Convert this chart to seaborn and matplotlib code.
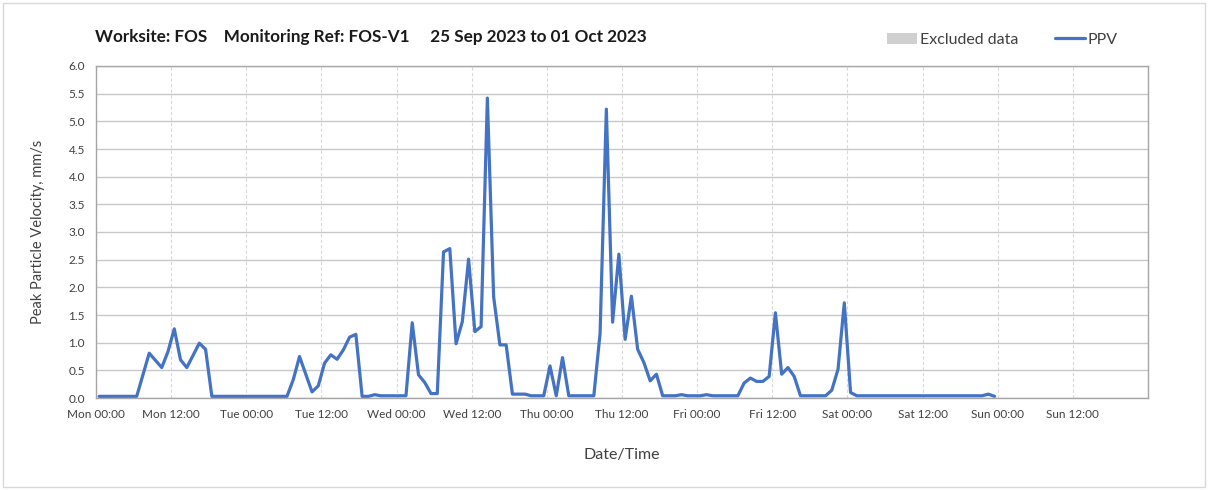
import matplotlib
matplotlib.use("Agg")
import matplotlib.pyplot as plt
import matplotlib.dates as mdates
import numpy as np
import pandas as pd
import seaborn as sns
from matplotlib.patches import Patch, Rectangle
from matplotlib.lines import Line2D

# ---- data (hourly PPV readings, mm/s) ----
start_time = "2023-09-25 00:30"
ppv = [
    0.03, 0.03, 0.03, 0.03, 0.03, 0.03, 0.03, 0.42, 0.81, 0.68, 0.55, 0.84,
    1.25, 0.69, 0.55, 0.77, 0.99, 0.88, 0.03, 0.03, 0.03, 0.03, 0.03, 0.03,
    0.03, 0.03, 0.03, 0.03, 0.03, 0.03, 0.03, 0.33, 0.75, 0.43, 0.11, 0.22,
    0.63, 0.78, 0.70, 0.87, 1.10, 1.15, 0.03, 0.03, 0.06, 0.04, 0.04, 0.04,
    0.04, 0.04, 1.36, 0.42, 0.28, 0.08, 0.08, 2.64, 2.70, 0.98, 1.38, 2.51,
    1.20, 1.29, 5.42, 1.83, 0.96, 0.96, 0.07, 0.07, 0.07, 0.04, 0.04, 0.04,
    0.58, 0.04, 0.73, 0.04, 0.04, 0.04, 0.04, 0.04, 1.17, 5.22, 1.37, 2.60,
    1.06, 1.84, 0.88, 0.64, 0.31, 0.43, 0.04, 0.04, 0.04, 0.06, 0.04, 0.04,
    0.04, 0.06, 0.04, 0.04, 0.04, 0.04, 0.04, 0.27, 0.36, 0.30, 0.30, 0.39,
    1.54, 0.43, 0.55, 0.39, 0.04, 0.04, 0.04, 0.04, 0.04, 0.14, 0.52, 1.72,
    0.10, 0.04, 0.04, 0.04, 0.04, 0.04, 0.04, 0.04, 0.04, 0.04, 0.04, 0.04,
    0.04, 0.04, 0.04, 0.04, 0.04, 0.04, 0.04, 0.04, 0.04, 0.04, 0.07, 0.03,
]
tick_labels = ["Mon 00:00", "Mon 12:00", "Tue 00:00", "Tue 12:00", "Wed 00:00",
               "Wed 12:00", "Thu 00:00", "Thu 12:00", "Fri 00:00", "Fri 12:00",
               "Sat 00:00", "Sat 12:00", "Sun 00:00", "Sun 12:00", ""]
y_ticks = [0.0, 0.5, 1.0, 1.5, 2.0, 2.5, 3.0, 3.5, 4.0, 4.5, 5.0, 5.5, 6.0]
title = "Worksite: FOS    Monitoring Ref: FOS-V1     25 Sep 2023 to 01 Oct 2023"

times = pd.date_range(start_time, periods=len(ppv), freq="h")
df = pd.DataFrame({"Date/Time": times, "PPV": ppv})

sns.set_style("white")
plt.rcParams["font.family"] = ["Lato", "DejaVu Sans"]

W, H = 1208, 490
fig = plt.figure(figsize=(W / 100, H / 100), dpi=100)
ax = fig.add_axes([96 / W, (H - 398) / H, (1148 - 96) / W, (398 - 66) / H])

line_color = "#4472C4"
sns.lineplot(data=df, x="Date/Time", y="PPV", ax=ax, color=line_color, linewidth=2.3)

x0 = pd.Timestamp("2023-09-25 00:00")
x1 = pd.Timestamp("2023-10-02 00:00")
ax.set_xlim(x0, x1)
ax.set_ylim(0, 6.0)

xt = pd.date_range(x0, x1, freq="12h")
ax.set_xticks(xt)
ax.set_xticklabels(tick_labels, fontsize=8.5, color="#404040")
ax.set_yticks(y_ticks)
ax.set_yticklabels([f"{v:.1f}" for v in y_ticks], fontsize=8.5, color="#404040")

ax.grid(axis="y", color="#c8c8c8", linewidth=1.0, linestyle="-")
ax.grid(axis="x", color="#d9d9d9", linewidth=0.8, linestyle=(0, (3, 2)))
ax.set_axisbelow(True)
for s in ax.spines.values():
    s.set_color("#a6a6a6")
    s.set_linewidth(1.0)
ax.tick_params(axis="both", direction="out", length=4, width=0.8, color="#a6a6a6", pad=4)

ax.set_xlabel("Date/Time", fontsize=11.5, color="#404040", labelpad=20)
ax.set_ylabel("Peak Particle Velocity, mm/s", fontsize=10.5, color="#404040", labelpad=17)

fig.text(95 / W, 1 - 37 / H, title, fontsize=12.3, fontweight="bold", color="#1a1a1a",
         va="center", ha="left")

handles = [Patch(facecolor="#d0d0d0", edgecolor="none", label="Excluded data"),
           Line2D([0], [0], color=line_color, linewidth=2.3, label="PPV")]
fig.legend(handles=handles, loc="center right", bbox_to_anchor=(1132 / W, 1 - 40 / H),
           ncol=2, frameon=False, fontsize=11.5, handlelength=1.9, handletextpad=0.15,
           columnspacing=2.3, labelcolor="#404040")

fig.patches.append(Rectangle((3 / W, 3 / H), 1 - 6 / W, 1 - 6 / H, transform=fig.transFigure,
                             fill=False, edgecolor="#d9d9d9", linewidth=1.0))

fig.savefig("out.png", dpi=100)
